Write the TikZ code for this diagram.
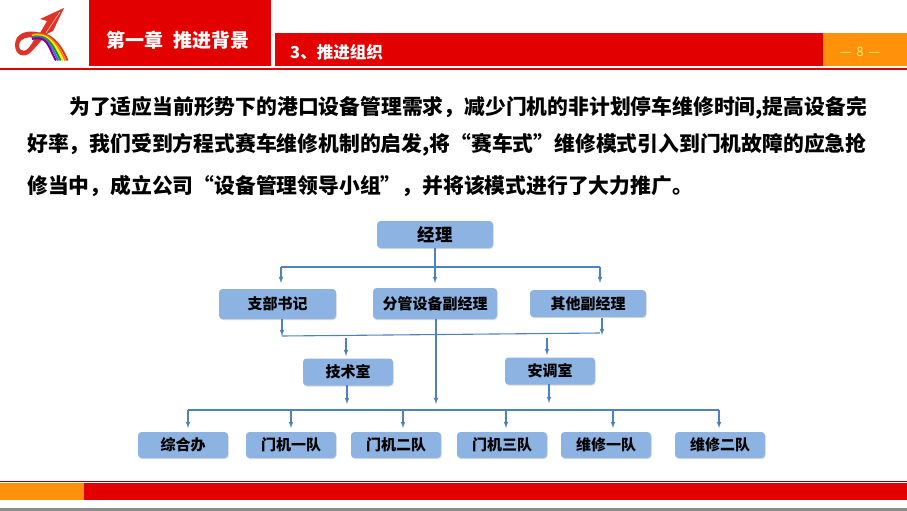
\documentclass[tikz,border=0pt]{standalone}
\usepackage{fontspec}
\setmainfont{Noto Sans CJK SC}
\usetikzlibrary{arrows.meta}
\usetikzlibrary{shadows}
\tikzset{>=latex, line width=1.0pt}
\definecolor{barred}{RGB}{226,0,0}
\definecolor{barorange}{RGB}{255,146,10}
\definecolor{boxblue}{RGB}{141,179,226}
\definecolor{flowblue}{RGB}{79,129,189}
\definecolor{logored}{RGB}{222,52,40}
\tikzset{
  orgbox/.style={rounded corners=3.5pt,fill=boxblue,text=black,font=\fontsize{15}{17}\selectfont\bfseries,inner sep=0pt,
    drop shadow={shadow xshift=0.6pt,shadow yshift=-1pt,opacity=.3}},
  teambox/.style={orgbox,minimum width=90pt,minimum height=26pt},
  flow/.style={->,draw=flowblue,line width=1.1pt},
  busline/.style={draw=flowblue,line width=1.1pt},
  bodyline/.style={anchor=west,inner sep=0pt,text=black,font=\fontsize{20.8}{24}\selectfont\bfseries},
}

\begin{document}
\begin{tikzpicture}[x=1pt,y=-1pt]
  \useasboundingbox (0,0) rectangle (907,511);

  % header bars
  \fill[barred] (89,0) rectangle (271,66);
  \fill[barred] (275,33) rectangle (823,66);
  \fill[barorange] (823,33) rectangle (907,66);
  \fill[barred] (0,68) rectangle (907,70);
  \node[text=white,font=\fontsize{19}{22}\selectfont\bfseries,inner sep=0pt] (chapter) at (178,40) {第一章\hspace{11pt}推进背景};
  \node[text=white,font=\fontsize{16.5}{20}\selectfont\bfseries,inner sep=0pt,anchor=west] (section) at (290,52) {3、推进组织};
  \node[text=yellow!60!white,font=\fontsize{13}{15}\selectfont,inner sep=0pt] (pageno) at (860,52) {—\hspace{5pt}8\hspace{5pt}—};

  % logo
  \fill[logored,even odd rule] (64,8) -- (40,19) -- (47,21) -- (40,33) .. controls (28,29) and (15,33) .. (15,45)
    .. controls (15,55) and (24,59) .. (31,52) .. controls (36,47) and (40,42) .. (47,34) -- (53,31) -- cycle
    (19,45) .. controls (20,38) and (28,36) .. (35,38) .. controls (32,44) and (28,50) .. (24,51) .. controls (21,51) and (19,49) .. (19,45) -- cycle;
  \draw[white!70!logored,line width=.6pt] (60,12) -- (46,33);
  \foreach \arccol [count=\arcidx from 0] in {logored,orange,yellow,green!65!black,blue!65!white,violet}{
    \draw[\arccol,line width=1.9pt] (32,34+\arcidx) .. controls (48,30+\arcidx) and (60-2.4*\arcidx,42+\arcidx) .. (67.5-2.3*\arcidx,60.5);
  }

  % body text
  \node[bodyline] (line1) at (69,108) {为了适应当前形势下的港口设备管理需求，减少门机的非计划停车维修时间,提高设备完};
  \node[bodyline] (line2) at (27,145) {好率，我们受到方程式赛车维修机制的启发,将“赛车式”维修模式引入到门机故障的应急抢};
  \node[bodyline] (line3) at (27,186) {修当中，成立公司“设备管理领导小组”，并将该模式进行了大力推广。};

  % manager and deputies
  \node[orgbox,minimum width=116pt,minimum height=27pt,font=\fontsize{17.5}{20}\selectfont\bfseries] (manager) at (435,234.5) {\raisebox{-1.5pt}{经理}};
  \node[orgbox,minimum width=117pt,minimum height=30pt] (party) at (277.5,304) {支部书记};
  \node[orgbox,minimum width=124pt,minimum height=31pt] (deputy) at (435,303.5) {分管设备副经理};
  \node[orgbox,minimum width=116pt,minimum height=27pt] (others) at (588,303.5) {其他副经理};

  % offices
  \node[orgbox,minimum width=90pt,minimum height=27pt] (tech) at (348,372) {技术室};
  \node[orgbox,minimum width=90pt,minimum height=27pt] (disp) at (550,371) {安调室};

  % teams
  \node[teambox] (office) at (183,445) {综合办};
  \node[teambox] (crane1) at (291,445) {门机一队};
  \node[teambox] (crane2) at (396,445) {门机二队};
  \node[teambox] (crane3) at (502,445) {门机三队};
  \node[teambox] (repair1) at (606,445) {维修一队};
  \node[teambox] (repair2) at (720,445) {维修二队};

  % manager -> deputies
  \coordinate (busal) at (281,267);
  \coordinate (busar) at (600,267);
  \coordinate (tipal) at (281,283);
  \coordinate (tipam) at (435,283);
  \coordinate (tipar) at (600,283);
  \draw[flow] (manager) -- (tipam);
  \draw[busline] (busal) -- (busar);
  \draw[flow] (busal) -- (tipal);
  \draw[flow] (busar) -- (tipar);

  % deputies -> offices
  \coordinate (busbl) at (282,336);
  \coordinate (busbr) at (600,333);
  \coordinate (tipbr) at (602,335);
  \coordinate (frombr) at (602,318);
  \coordinate (frombl) at (282,319);
  \coordinate (frombm) at (436,319);
  \coordinate (tipbm) at (436,404);
  \draw[flow] (frombl) -- (busbl);
  \draw[busline] (busbl) -- (busbr);
  \draw[flow] (frombr) -- (tipbr);
  \draw[flow] (frombm) -- (tipbm);
  \coordinate (topji) at (346,338);
  \coordinate (tipji) at (346,356);
  \coordinate (topan) at (547,338);
  \coordinate (tipan) at (547,355);
  \draw[flow] (topji) -- (tipji);
  \draw[flow] (topan) -- (tipan);

  % offices -> teams
  \coordinate (fromji) at (347,385);
  \coordinate (lowji) at (347,404);
  \coordinate (froman) at (549,384);
  \coordinate (lowan) at (549,403);
  \draw[flow] (fromji) -- (lowji);
  \draw[flow] (froman) -- (lowan);
  \coordinate (busl) at (188,410);
  \coordinate (busr) at (719,410);
  \draw[busline] (busl) -- (busr);
  \foreach \team/\tipx in {office/188,crane1/291,crane2/403,crane3/506,repair1/613,repair2/719}{
    \coordinate (bus\team) at (\tipx,410);
    \coordinate (tip\team) at (\tipx,428);
    \draw[flow] (bus\team) -- (tip\team);
  }

  % footer bars
  \fill[barred!70!black] (0,481) rectangle (907,482.2);
  \fill[barorange] (0,483) rectangle (84,500);
  \fill[barred] (84,483) rectangle (907,500);
  \fill[black!45] (0,508) rectangle (907,511);
\end{tikzpicture}
\end{document}
